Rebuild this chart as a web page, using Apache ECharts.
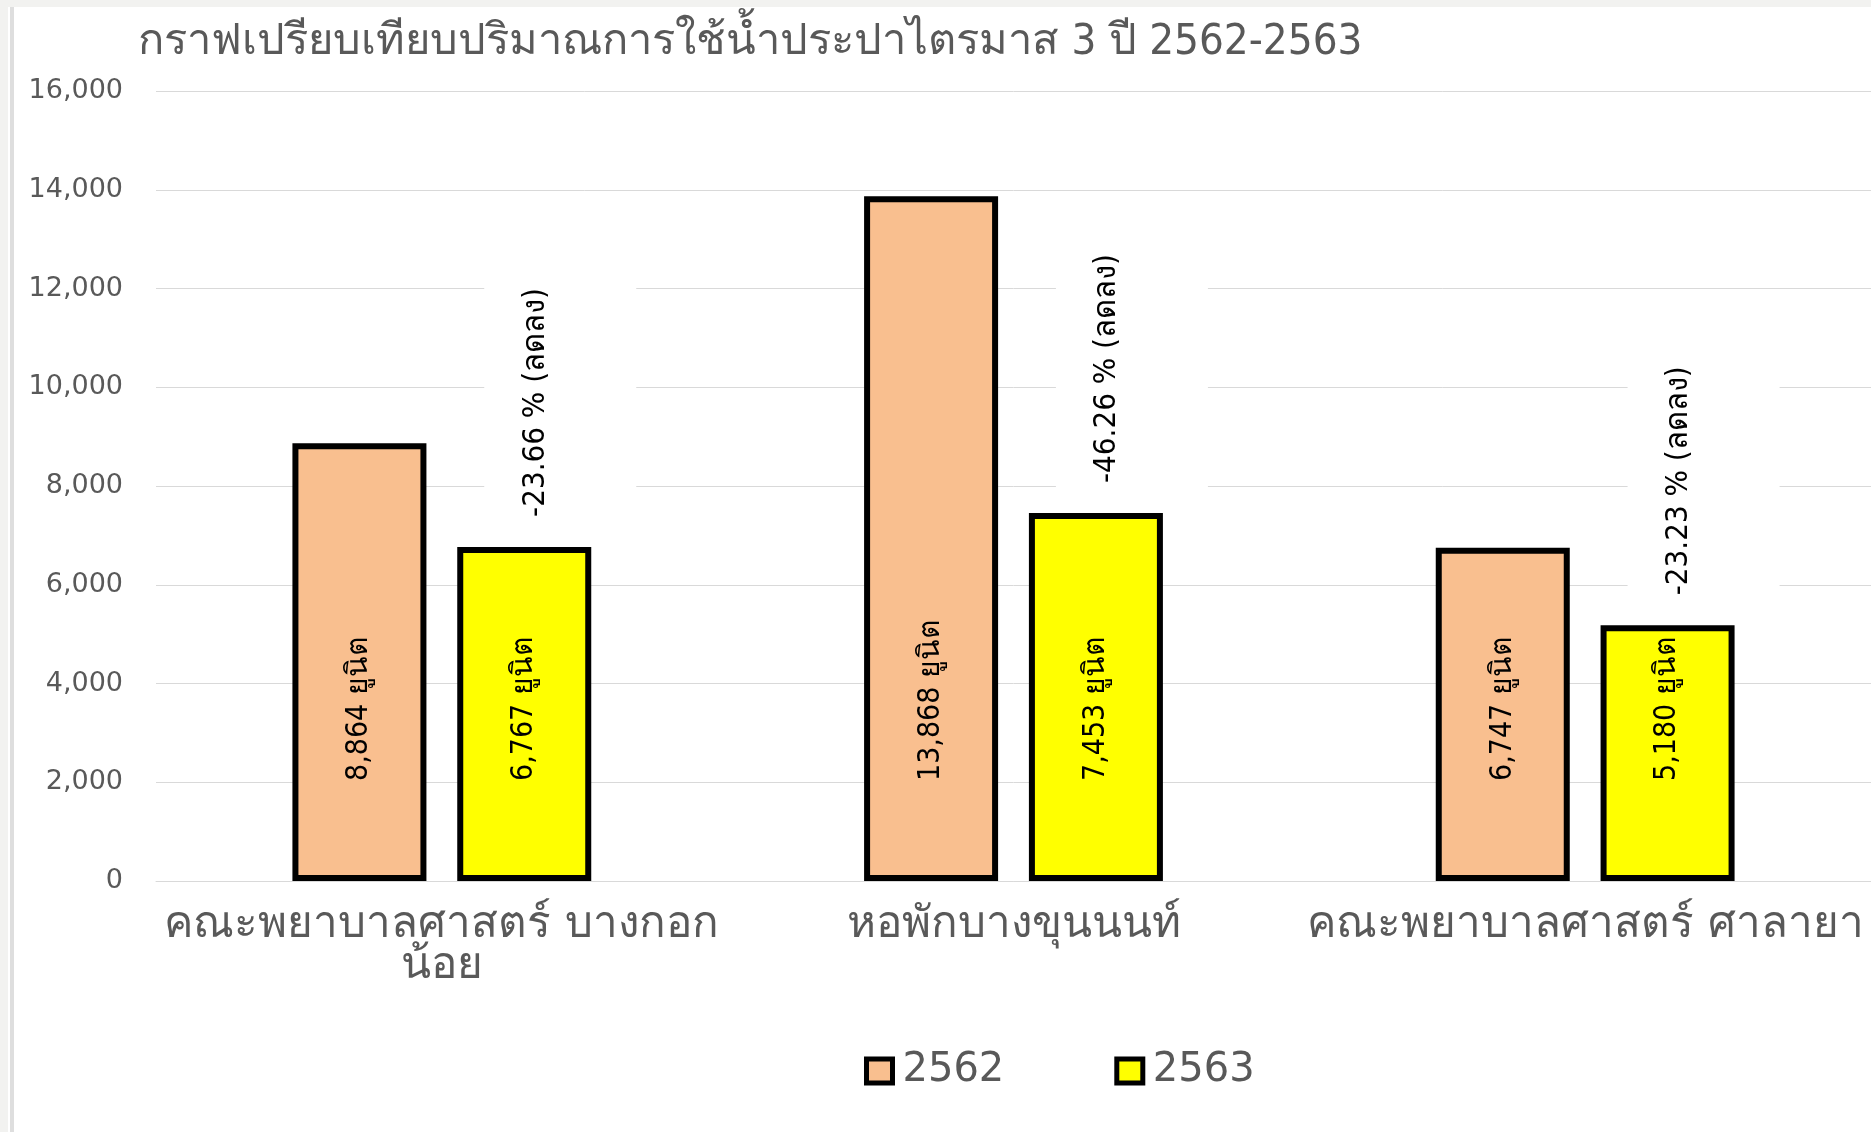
<!DOCTYPE html>
<html>
<head>
<meta charset="utf-8">
<script src="https://cdn.jsdelivr.net/npm/echarts@6/dist/echarts.min.js"></script>
<style>
  html, body { margin: 0; padding: 0; background: #f2f2f0; width: 1871px; height: 1132px; overflow: hidden; }
  #paper { position: absolute; left: 8px; top: 7px; width: 1863px; height: 1125px; background: #ffffff; }
  #edge { position: absolute; left: 10px; top: 7px; width: 4px; height: 1125px; background: #dedede; }
  #chart { position: absolute; left: 0; top: 0; width: 1871px; height: 1132px; }
</style>
</head>
<body>
<div id="paper"></div>
<div id="edge"></div>
<div id="chart"></div>
<script>
const titleText = 'กราฟเปรียบเทียบปริมาณการใช้น้ำประปาไตรมาส 3 ปี 2562-2563';
const categories = ['คณะพยาบาลศาสตร์ บางกอก\nน้อย', 'หอพักบางขุนนนท์', 'คณะพยาบาลศาสตร์ ศาลายา'];
const seriesNames = ['2562', '2563'];
const values2562 = [8864, 13868, 6747];
const values2563 = [6767, 7453, 5180];
const changePercent = [-23.66, -46.26, -23.23];
const yTicks = { min: 0, max: 16000, interval: 2000 };

const condensed = "'Liberation Sans Narrow', 'DejaVu Sans Condensed', 'Noto Sans', sans-serif";
const wide = "'DejaVu Sans', 'Noto Sans', sans-serif";

const barCommon = {
  type: 'bar',
  barWidth: 134,
  barGap: '23%'
};

const insideLabel = {
  show: true,
  position: 'insideBottom',
  distance: 100,
  rotate: 90,
  align: 'left',
  verticalAlign: 'middle',
  color: '#000',
  fontFamily: condensed,
  fontSize: 30,
  formatter: p => p.value.toLocaleString('en-US') + ' ยูนิต'
};

const chart = echarts.init(document.getElementById('chart'));
chart.setOption({
  backgroundColor: 'transparent',
  animation: false,
  title: {
    text: titleText,
    left: 133,
    top: 16,
    textStyle: { color: '#595959', fontSize: 43.5, fontWeight: 'normal', fontFamily: condensed }
  },
  legend: {
    data: seriesNames,
    left: 859,
    top: 1046,
    itemGap: 110,
    itemWidth: 26,
    itemHeight: 24,
    icon: 'rect',
    itemStyle: { borderColor: '#000', borderWidth: 5 },
    textStyle: { color: '#595959', fontSize: 40, fontFamily: wide, padding: [0, 0, 0, 5] }
  },
  grid: { left: 156, top: 91, bottom: 251, width: 1726, containLabel: false },
  xAxis: [
    {
      type: 'category',
      data: categories,
      axisLine: { lineStyle: { color: '#d9d9d9', width: 1 } },
      axisTick: { show: false },
      axisLabel: { color: '#595959', fontSize: 44, lineHeight: 41, margin: 24, fontFamily: wide, interval: 0 }
    },
    {
      type: 'category',
      data: categories,
      show: false
    }
  ],
  yAxis: {
    type: 'value',
    min: yTicks.min,
    max: yTicks.max,
    interval: yTicks.interval,
    axisLine: { show: false },
    axisTick: { show: false },
    splitLine: { lineStyle: { color: '#d9d9d9', width: 1 } },
    axisLabel: {
      color: '#595959', fontSize: 27, margin: 33, fontFamily: wide,
      formatter: v => v.toLocaleString('en-US')
    }
  },
  series: [
    Object.assign({}, barCommon, {
      name: seriesNames[0],
      data: values2562,
      itemStyle: { color: '#F9BF8F', borderColor: '#000', borderWidth: 6 },
      label: insideLabel
    }),
    Object.assign({}, barCommon, {
      name: seriesNames[1],
      data: values2563,
      itemStyle: { color: '#FFFF00', borderColor: '#000', borderWidth: 6 },
      label: insideLabel
    }),
    Object.assign({}, barCommon, {
      name: 'placeholder',
      xAxisIndex: 1,
      data: values2562.map(() => '-'),
      silent: true
    }),
    Object.assign({}, barCommon, {
      name: 'change',
      xAxisIndex: 1,
      data: values2563,
      silent: true,
      itemStyle: { color: 'rgba(0,0,0,0)', borderWidth: 0 },
      label: {
        show: true,
        position: 'top',
        distance: 20,
        rotate: 90,
        align: 'left',
        verticalAlign: 'middle',
        color: '#000',
        fontFamily: condensed,
        fontSize: 31,
        backgroundColor: '#ffffff',
        padding: [33, 8, 10, 10],
        offset: [0, 36],
        rich: {
          t: { fontFamily: condensed, fontSize: 31, lineHeight: 37, color: '#000' },
          s: { fontSize: 10, lineHeight: 72 }
        },
        formatter: p => '{t|' + changePercent[p.dataIndex].toFixed(2) + ' % (ลดลง)}\n{s| }'
      }
    })
  ]
});
</script>
</body>
</html>
